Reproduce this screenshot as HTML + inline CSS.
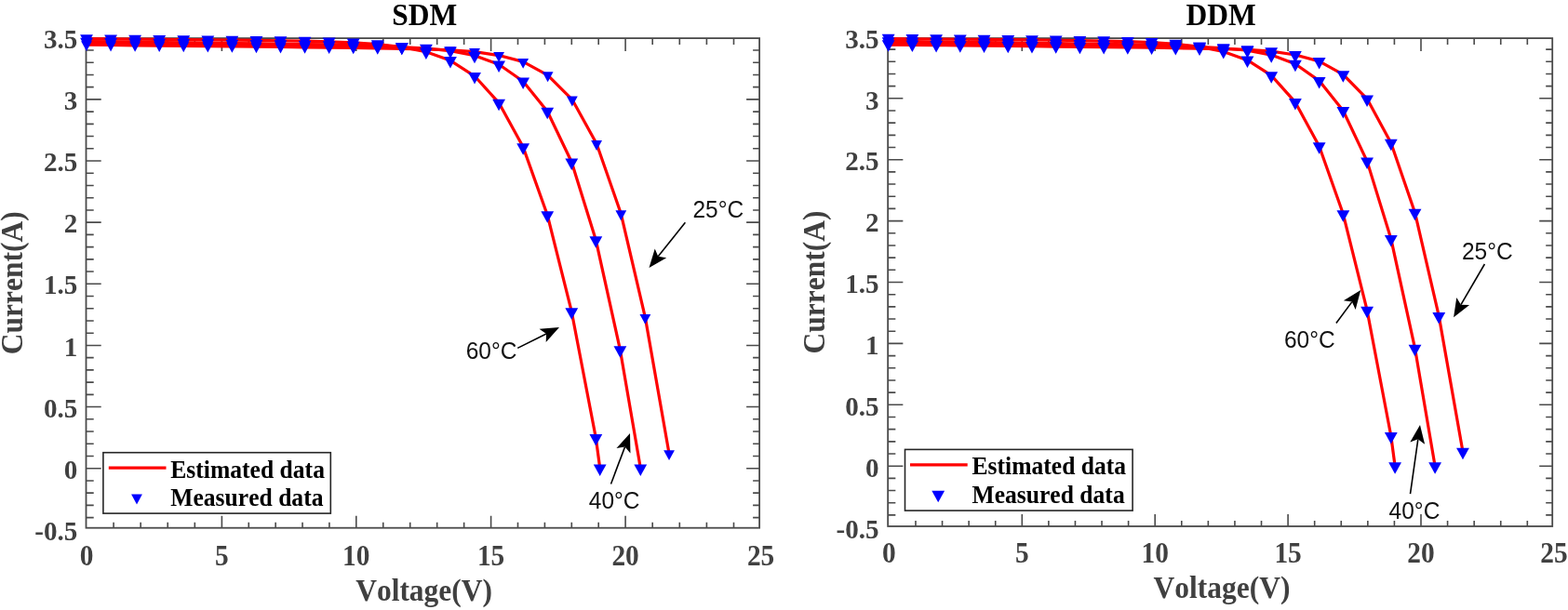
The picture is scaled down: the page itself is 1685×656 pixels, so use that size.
<!DOCTYPE html>
<html lang="en"><head><meta charset="utf-8"><title>SDM and DDM I-V curves</title>
<style>
html,body{margin:0;padding:0;background:#fff;}
body{width:1685px;height:656px;overflow:hidden;}
svg{display:block;}
text{font-family:"Liberation Serif","Times New Roman",serif;font-weight:bold;font-kerning:none;}
.tk{font-size:30px;fill:#404040;}
.ttl{font-size:31.5px;fill:#000;}
.lab{font-size:31.5px;fill:#404040;}
.leg{font-size:25.6px;fill:#000;}
.ann{font-family:"Liberation Sans",Arial,sans-serif;font-weight:normal;font-size:24.5px;fill:#111;}
</style></head><body>
<svg width="1685" height="656" viewBox="0 0 1685 656">
<rect width="1685" height="656" fill="#fff"/>
<g>
<rect width="1685" height="656" fill="#fff"/>
<g>
<rect x="92.5" y="41.1" width="723.6" height="526.6" fill="#fff" stroke="#4a4a4a" stroke-width="1.8"/>
<path d="M122.08 567.7v-5.9M122.08 41.1v7M151.16 567.7v-5.9M151.16 41.1v7M180.24 567.7v-5.9M180.24 41.1v7M209.32 567.7v-5.9M209.32 41.1v7M238.4 567.7v-12.9M238.4 41.1v14M267.28 567.7v-5.9M267.28 41.1v7M296.16 567.7v-5.9M296.16 41.1v7M325.04 567.7v-5.9M325.04 41.1v7M353.92 567.7v-5.9M353.92 41.1v7M382.8 567.7v-12.9M382.8 41.1v14M411.76 567.7v-5.9M411.76 41.1v7M440.72 567.7v-5.9M440.72 41.1v7M469.68 567.7v-5.9M469.68 41.1v7M498.64 567.7v-5.9M498.64 41.1v7M527.6 567.7v-12.9M527.6 41.1v14M556.5 567.7v-5.9M556.5 41.1v7M585.4 567.7v-5.9M585.4 41.1v7M614.3 567.7v-5.9M614.3 41.1v7M643.2 567.7v-5.9M643.2 41.1v7M672.1 567.7v-12.9M672.1 41.1v14M701.2 567.7v-5.9M701.2 41.1v7M730.3 567.7v-5.9M730.3 41.1v7M759.4 567.7v-5.9M759.4 41.1v7M788.5 567.7v-5.9M788.5 41.1v7M92.5 556.61h8.2M816.1 556.61h-7M92.5 543.38h8.2M816.1 543.38h-7M92.5 530.15h8.2M816.1 530.15h-7M92.5 516.93h8.2M816.1 516.93h-7M92.5 503.7h16.2M816.1 503.7h-14M92.5 490.47h8.2M816.1 490.47h-7M92.5 477.25h8.2M816.1 477.25h-7M92.5 464.02h8.2M816.1 464.02h-7M92.5 450.79h8.2M816.1 450.79h-7M92.5 437.56h16.2M816.1 437.56h-14M92.5 424.34h8.2M816.1 424.34h-7M92.5 411.11h8.2M816.1 411.11h-7M92.5 397.88h8.2M816.1 397.88h-7M92.5 384.66h8.2M816.1 384.66h-7M92.5 371.43h16.2M816.1 371.43h-14M92.5 358.2h8.2M816.1 358.2h-7M92.5 344.98h8.2M816.1 344.98h-7M92.5 331.75h8.2M816.1 331.75h-7M92.5 318.52h8.2M816.1 318.52h-7M92.5 305.29h16.2M816.1 305.29h-14M92.5 292.07h8.2M816.1 292.07h-7M92.5 278.84h8.2M816.1 278.84h-7M92.5 265.61h8.2M816.1 265.61h-7M92.5 252.39h8.2M816.1 252.39h-7M92.5 239.16h16.2M816.1 239.16h-14M92.5 225.93h8.2M816.1 225.93h-7M92.5 212.71h8.2M816.1 212.71h-7M92.5 199.48h8.2M816.1 199.48h-7M92.5 186.25h8.2M816.1 186.25h-7M92.5 173.02h16.2M816.1 173.02h-14M92.5 159.8h8.2M816.1 159.8h-7M92.5 146.57h8.2M816.1 146.57h-7M92.5 133.34h8.2M816.1 133.34h-7M92.5 120.12h8.2M816.1 120.12h-7M92.5 106.89h16.2M816.1 106.89h-14M92.5 93.66h8.2M816.1 93.66h-7M92.5 80.44h8.2M816.1 80.44h-7M92.5 67.21h8.2M816.1 67.21h-7M92.5 53.98h8.2M816.1 53.98h-7" stroke="#4a4a4a" stroke-width="1.6" fill="none"/>
<text class="tk" text-anchor="middle" transform="translate(93 607.7) scale(0.98 1.02)">0</text>
<text class="tk" text-anchor="middle" transform="translate(238.4 607.7) scale(0.98 1.02)">5</text>
<text class="tk" text-anchor="middle" transform="translate(382.8 607.7) scale(0.98 1.02)">10</text>
<text class="tk" text-anchor="middle" transform="translate(527.6 607.7) scale(0.98 1.02)">15</text>
<text class="tk" text-anchor="middle" transform="translate(672.1 607.7) scale(0.98 1.02)">20</text>
<text class="tk" text-anchor="middle" transform="translate(817.6 607.7) scale(0.98 1.02)">25</text>
<text class="tk" text-anchor="end" transform="translate(83.4 581.04) scale(0.97 1.01)">-0.5</text>
<text class="tk" text-anchor="end" transform="translate(83.4 514.9) scale(0.97 1.01)">0</text>
<text class="tk" text-anchor="end" transform="translate(83.4 448.76) scale(0.97 1.01)">0.5</text>
<text class="tk" text-anchor="end" transform="translate(83.4 382.63) scale(0.97 1.01)">1</text>
<text class="tk" text-anchor="end" transform="translate(83.4 316.49) scale(0.97 1.01)">1.5</text>
<text class="tk" text-anchor="end" transform="translate(83.4 250.36) scale(0.97 1.01)">2</text>
<text class="tk" text-anchor="end" transform="translate(83.4 184.22) scale(0.97 1.01)">2.5</text>
<text class="tk" text-anchor="end" transform="translate(83.4 118.09) scale(0.97 1.01)">3</text>
<text class="tk" text-anchor="end" transform="translate(83.4 51.95) scale(0.97 1.01)">3.5</text>
<text class="ttl" text-anchor="middle" transform="translate(456.2 26.6) scale(1 1.05)">SDM</text>
<text class="lab" text-anchor="middle" transform="translate(455.6 645.7) scale(1 1.07)">Voltage(V)</text>
<text class="lab" text-anchor="middle" transform="translate(24 304.3) rotate(-90) scale(1 1.07)">Current(A)</text>
<g fill="none" stroke="#f00" stroke-width="3.2" stroke-linejoin="round">
<polyline points="93,48.21 119.06,48.49 145.13,48.78 171.19,49.07 197.26,49.36 223.32,49.65 249.38,49.94 275.45,50.23 301.51,50.52 327.58,50.81 353.64,51.13 379.7,51.46 405.77,51.85 431.83,52.34 457.9,52.86 483.96,53.8 510.02,55.62 536.09,59.55 562.15,66.4 588.62,80.8 614.86,107.05 641.09,154.54 667.31,229.81 693.37,341.4 719.04,487.71"/>
<polyline points="93,45.1 119.06,45.43 145.13,45.76 171.19,46.09 197.26,46.41 223.32,46.74 249.38,47.08 275.45,47.42 301.51,47.77 327.58,48.14 353.64,48.54 379.7,49.03 405.77,49.68 431.83,50.63 457.9,52.02 483.96,54.65 510.02,59.64 536.09,69.3 562.15,87.46 588.22,119.7 614.28,174.3 640.34,258.1 666.41,376.2 688.27,503.3"/>
<polyline points="93,41.7 119.06,41.93 145.13,42.15 171.19,42.39 197.26,42.61 223.32,42.87 249.38,43.12 275.45,43.41 301.51,43.76 327.58,44.21 353.64,44.88 379.7,45.89 405.77,47.61 431.83,50.6 457.9,55.77 483.96,65.11 510.02,81.8 536.09,110.6 562.15,158.1 588.22,231.19 614.28,335.2 640.34,471 644.69,503.3"/>
<polyline points="93,45.1 119.06,45.43 145.13,45.76 171.19,46.09 197.26,46.41 223.32,46.74 249.38,47.08 275.45,47.42 301.51,47.77 327.58,48.14 353.64,48.54 379.7,49.03 405.77,49.68 431.83,50.63" stroke-width="4.4"/>
</g>
<g fill="#00f">
<polygon points="87.1,44.21 98.9,44.21 93,55.11"/>
<polygon points="113.16,44.49 124.96,44.49 119.06,55.39"/>
<polygon points="139.23,44.78 151.03,44.78 145.13,55.68"/>
<polygon points="165.29,45.07 177.09,45.07 171.19,55.97"/>
<polygon points="191.36,45.36 203.16,45.36 197.26,56.26"/>
<polygon points="217.42,45.65 229.22,45.65 223.32,56.55"/>
<polygon points="243.48,45.94 255.28,45.94 249.38,56.84"/>
<polygon points="269.55,46.23 281.35,46.23 275.45,57.13"/>
<polygon points="295.61,46.52 307.41,46.52 301.51,57.42"/>
<polygon points="321.68,46.81 333.48,46.81 327.58,57.71"/>
<polygon points="347.74,47.13 359.54,47.13 353.64,58.03"/>
<polygon points="373.8,47.46 385.6,47.46 379.7,58.36"/>
<polygon points="399.87,47.85 411.67,47.85 405.77,58.75"/>
<polygon points="425.93,48.34 437.73,48.34 431.83,59.24"/>
<polygon points="452,49.02 463.8,49.02 457.9,59.92"/>
<polygon points="478.06,50.13 489.86,50.13 483.96,61.03"/>
<polygon points="504.12,52.12 515.92,52.12 510.02,63.02"/>
<polygon points="530.19,56.05 541.99,56.05 536.09,66.95"/>
<polygon points="556.25,62.9 568.05,62.9 562.15,73.8"/>
<polygon points="582.72,77.3 594.52,77.3 588.62,88.2"/>
<polygon points="608.96,103.55 620.75,103.55 614.86,114.45"/>
<polygon points="635.19,151.04 646.99,151.04 641.09,161.94"/>
<polygon points="661.41,226.31 673.21,226.31 667.31,237.21"/>
<polygon points="687.47,337.9 699.27,337.9 693.37,348.8"/>
<polygon points="713.14,484.21 724.94,484.21 719.04,495.11"/>
<polygon points="86.1,40.7 99.9,40.7 93,53.2"/>
<polygon points="112.16,41.03 125.96,41.03 119.06,53.53"/>
<polygon points="138.23,41.36 152.03,41.36 145.13,53.86"/>
<polygon points="164.29,41.69 178.09,41.69 171.19,54.19"/>
<polygon points="190.36,42.01 204.16,42.01 197.26,54.51"/>
<polygon points="216.42,42.34 230.22,42.34 223.32,54.84"/>
<polygon points="242.48,42.68 256.28,42.68 249.38,55.18"/>
<polygon points="268.55,43.02 282.35,43.02 275.45,55.52"/>
<polygon points="294.61,43.37 308.41,43.37 301.51,55.87"/>
<polygon points="320.68,43.74 334.48,43.74 327.58,56.24"/>
<polygon points="346.74,44.14 360.54,44.14 353.64,56.64"/>
<polygon points="372.8,44.63 386.6,44.63 379.7,57.13"/>
<polygon points="398.87,45.28 412.67,45.28 405.77,57.78"/>
<polygon points="424.93,46.23 438.73,46.23 431.83,58.73"/>
<polygon points="451,47.79 464.8,47.79 457.9,60.29"/>
<polygon points="477.06,50.58 490.86,50.58 483.96,63.08"/>
<polygon points="503.12,55.74 516.92,55.74 510.02,68.24"/>
<polygon points="529.19,65.4 542.99,65.4 536.09,77.9"/>
<polygon points="555.25,83.56 569.05,83.56 562.15,96.06"/>
<polygon points="581.32,115.8 595.12,115.8 588.22,128.3"/>
<polygon points="607.38,170.4 621.18,170.4 614.28,182.9"/>
<polygon points="633.44,254.2 647.24,254.2 640.34,266.7"/>
<polygon points="659.51,372.3 673.31,372.3 666.41,384.8"/>
<polygon points="681.37,499.4 695.17,499.4 688.27,511.9"/>
<polygon points="86.1,37.3 99.9,37.3 93,49.8"/>
<polygon points="112.16,37.53 125.96,37.53 119.06,50.03"/>
<polygon points="138.23,37.75 152.03,37.75 145.13,50.25"/>
<polygon points="164.29,37.99 178.09,37.99 171.19,50.49"/>
<polygon points="190.36,38.21 204.16,38.21 197.26,50.71"/>
<polygon points="216.42,38.47 230.22,38.47 223.32,50.97"/>
<polygon points="242.48,38.72 256.28,38.72 249.38,51.22"/>
<polygon points="268.55,39.01 282.35,39.01 275.45,51.51"/>
<polygon points="294.61,39.36 308.41,39.36 301.51,51.86"/>
<polygon points="320.68,39.81 334.48,39.81 327.58,52.31"/>
<polygon points="346.74,40.48 360.54,40.48 353.64,52.98"/>
<polygon points="372.8,41.49 386.6,41.49 379.7,53.99"/>
<polygon points="398.87,43.21 412.67,43.21 405.77,55.71"/>
<polygon points="424.93,46.2 438.73,46.2 431.83,58.7"/>
<polygon points="451,51.53 464.8,51.53 457.9,64.03"/>
<polygon points="477.06,61.04 490.86,61.04 483.96,73.54"/>
<polygon points="503.12,77.9 516.92,77.9 510.02,90.4"/>
<polygon points="529.19,106.7 542.99,106.7 536.09,119.2"/>
<polygon points="555.25,154.2 569.05,154.2 562.15,166.7"/>
<polygon points="581.32,227.29 595.12,227.29 588.22,239.79"/>
<polygon points="607.38,331.3 621.18,331.3 614.28,343.8"/>
<polygon points="633.44,467.1 647.24,467.1 640.34,479.6"/>
<polygon points="637.79,499.4 651.59,499.4 644.69,511.9"/>
</g>
<rect x="110.9" y="486.7" width="244.4" height="65.4" fill="#fff" stroke="#262626" stroke-width="1.6"/>
<line x1="116.8" y1="503.2" x2="178.5" y2="503.2" stroke="#f00" stroke-width="3.2"/>
<g fill="#00f"><polygon points="141.1,531.5 152.9,531.5 147,542.4"/></g>
<text class="leg" transform="translate(183.3 513.7) scale(1 1.045)">Estimated data</text>
<text class="leg" transform="translate(183.3 544.1) scale(1 1.045)">Measured data</text>
<text class="ann" transform="translate(744.5 233.9) scale(1 1.06)">25°C</text>
<line x1="736.4" y1="239.3" x2="707.24" y2="275.81" stroke="#000" stroke-width="1.6"/><polygon points="697.5,288 703.73,267.38 707.24,275.81 716.23,277.37" fill="#000"/>
<text class="ann" transform="translate(500.7 386) scale(1 1.06)">60°C</text>
<line x1="556.2" y1="374.4" x2="587.05" y2="358.98" stroke="#000" stroke-width="1.6"/><polygon points="601,352 586.69,368.1 587.05,358.98 579.53,353.79" fill="#000"/>
<text class="ann" transform="translate(632.8 547) scale(1 1.06)">40°C</text>
<line x1="656.5" y1="520.5" x2="671.51" y2="480.6" stroke="#000" stroke-width="1.6"/><polygon points="677,466 677.45,487.54 671.51,480.6 662.47,481.9" fill="#000"/>
</g>
<g>
<rect x="954.15" y="41.1" width="714.05" height="524.9" fill="#fff" stroke="#4a4a4a" stroke-width="1.8"/>
<path d="M983.98 566v-5.9M983.98 41.1v7M1012.56 566v-5.9M1012.56 41.1v7M1041.14 566v-5.9M1041.14 41.1v7M1069.72 566v-5.9M1069.72 41.1v7M1098.3 566v-12.9M1098.3 41.1v14M1126.88 566v-5.9M1126.88 41.1v7M1155.46 566v-5.9M1155.46 41.1v7M1184.04 566v-5.9M1184.04 41.1v7M1212.62 566v-5.9M1212.62 41.1v7M1241.2 566v-12.9M1241.2 41.1v14M1269.78 566v-5.9M1269.78 41.1v7M1298.36 566v-5.9M1298.36 41.1v7M1326.94 566v-5.9M1326.94 41.1v7M1355.52 566v-5.9M1355.52 41.1v7M1384.1 566v-12.9M1384.1 41.1v14M1412.68 566v-5.9M1412.68 41.1v7M1441.26 566v-5.9M1441.26 41.1v7M1469.84 566v-5.9M1469.84 41.1v7M1498.42 566v-5.9M1498.42 41.1v7M1527 566v-12.9M1527 41.1v14M1555.58 566v-5.9M1555.58 41.1v7M1584.16 566v-5.9M1584.16 41.1v7M1612.74 566v-5.9M1612.74 41.1v7M1641.32 566v-5.9M1641.32 41.1v7M954.15 553.92h8.2M1668.2 553.92h-7M954.15 540.74h8.2M1668.2 540.74h-7M954.15 527.56h8.2M1668.2 527.56h-7M954.15 514.38h8.2M1668.2 514.38h-7M954.15 501.2h16.2M1668.2 501.2h-14M954.15 488.02h8.2M1668.2 488.02h-7M954.15 474.84h8.2M1668.2 474.84h-7M954.15 461.66h8.2M1668.2 461.66h-7M954.15 448.48h8.2M1668.2 448.48h-7M954.15 435.3h16.2M1668.2 435.3h-14M954.15 422.12h8.2M1668.2 422.12h-7M954.15 408.94h8.2M1668.2 408.94h-7M954.15 395.76h8.2M1668.2 395.76h-7M954.15 382.58h8.2M1668.2 382.58h-7M954.15 369.4h16.2M1668.2 369.4h-14M954.15 356.22h8.2M1668.2 356.22h-7M954.15 343.04h8.2M1668.2 343.04h-7M954.15 329.86h8.2M1668.2 329.86h-7M954.15 316.68h8.2M1668.2 316.68h-7M954.15 303.5h16.2M1668.2 303.5h-14M954.15 290.32h8.2M1668.2 290.32h-7M954.15 277.14h8.2M1668.2 277.14h-7M954.15 263.96h8.2M1668.2 263.96h-7M954.15 250.78h8.2M1668.2 250.78h-7M954.15 237.6h16.2M1668.2 237.6h-14M954.15 224.42h8.2M1668.2 224.42h-7M954.15 211.24h8.2M1668.2 211.24h-7M954.15 198.06h8.2M1668.2 198.06h-7M954.15 184.88h8.2M1668.2 184.88h-7M954.15 171.7h16.2M1668.2 171.7h-14M954.15 158.52h8.2M1668.2 158.52h-7M954.15 145.34h8.2M1668.2 145.34h-7M954.15 132.16h8.2M1668.2 132.16h-7M954.15 118.98h8.2M1668.2 118.98h-7M954.15 105.8h16.2M1668.2 105.8h-14M954.15 92.62h8.2M1668.2 92.62h-7M954.15 79.44h8.2M1668.2 79.44h-7M954.15 66.26h8.2M1668.2 66.26h-7M954.15 53.08h8.2M1668.2 53.08h-7" stroke="#4a4a4a" stroke-width="1.6" fill="none"/>
<text class="tk" text-anchor="middle" transform="translate(955.4 604.9) scale(0.98 1.02)">0</text>
<text class="tk" text-anchor="middle" transform="translate(1098.3 604.9) scale(0.98 1.02)">5</text>
<text class="tk" text-anchor="middle" transform="translate(1241.2 604.9) scale(0.98 1.02)">10</text>
<text class="tk" text-anchor="middle" transform="translate(1384.1 604.9) scale(0.98 1.02)">15</text>
<text class="tk" text-anchor="middle" transform="translate(1527 604.9) scale(0.98 1.02)">20</text>
<text class="tk" text-anchor="middle" transform="translate(1669.9 604.9) scale(0.98 1.02)">25</text>
<text class="tk" text-anchor="end" transform="translate(944.5 578.8) scale(0.97 1.01)">-0.5</text>
<text class="tk" text-anchor="end" transform="translate(944.5 512.9) scale(0.97 1.01)">0</text>
<text class="tk" text-anchor="end" transform="translate(944.5 447) scale(0.97 1.01)">0.5</text>
<text class="tk" text-anchor="end" transform="translate(944.5 381.1) scale(0.97 1.01)">1</text>
<text class="tk" text-anchor="end" transform="translate(944.5 315.2) scale(0.97 1.01)">1.5</text>
<text class="tk" text-anchor="end" transform="translate(944.5 249.3) scale(0.97 1.01)">2</text>
<text class="tk" text-anchor="end" transform="translate(944.5 183.4) scale(0.97 1.01)">2.5</text>
<text class="tk" text-anchor="end" transform="translate(944.5 117.5) scale(0.97 1.01)">3</text>
<text class="tk" text-anchor="end" transform="translate(944.5 51.6) scale(0.97 1.01)">3.5</text>
<text class="ttl" text-anchor="middle" transform="translate(1312 26.6) scale(1 1.05)">DDM</text>
<text class="lab" text-anchor="middle" transform="translate(1313 642.7) scale(1 1.07)">Voltage(V)</text>
<text class="lab" text-anchor="middle" transform="translate(886 303.5) rotate(-90) scale(1 1.07)">Current(A)</text>
<g fill="none" stroke="#f00" stroke-width="3.2" stroke-linejoin="round">
<polyline points="954.65,48.03 980.37,48.3 1006.09,48.59 1031.82,48.88 1057.54,49.17 1083.26,49.46 1108.98,49.75 1134.7,50.04 1160.43,50.33 1186.15,50.62 1211.87,50.94 1237.59,51.27 1263.31,51.65 1289.04,52.14 1314.76,52.56 1340.48,53.4 1366.2,55.11 1391.92,59.02 1417.65,65.85 1443.37,80.2 1469.09,106.35 1494.81,153.68 1520.53,228.68 1546.26,339.88 1571.98,485.66"/>
<polyline points="954.65,44.93 980.37,45.26 1006.09,45.59 1031.82,45.92 1057.54,46.24 1083.26,46.57 1108.98,46.91 1134.7,47.24 1160.43,47.59 1186.15,47.96 1211.87,48.36 1237.59,48.85 1263.31,49.49 1289.04,50.44 1314.76,51.73 1340.48,54.24 1366.2,59.12 1391.92,68.74 1417.65,86.83 1443.37,118.97 1469.09,173.37 1494.81,256.87 1520.53,374.55 1542.11,501.2"/>
<polyline points="954.65,41.54 980.37,41.77 1006.09,41.99 1031.82,42.23 1057.54,42.45 1083.26,42.7 1108.98,42.95 1134.7,43.24 1160.43,43.6 1186.15,44.05 1211.87,44.71 1237.59,45.72 1263.31,47.43 1289.04,50.41 1314.76,55.46 1340.48,64.67 1366.2,81.19 1391.92,109.9 1417.65,157.23 1443.37,230.06 1469.09,333.7 1494.81,469.01 1499.1,501.2"/>
<polyline points="954.65,44.93 980.37,45.26 1006.09,45.59 1031.82,45.92 1057.54,46.24 1083.26,46.57 1108.98,46.91 1134.7,47.24 1160.43,47.59 1186.15,47.96 1211.87,48.36 1237.59,48.85 1263.31,49.49 1289.04,50.44" stroke-width="4.4"/>
</g>
<g fill="#00f">
<polygon points="947.75,43.33 961.55,43.33 954.65,55.83"/>
<polygon points="973.47,43.6 987.27,43.6 980.37,56.1"/>
<polygon points="999.19,43.89 1012.99,43.89 1006.09,56.39"/>
<polygon points="1024.92,44.18 1038.72,44.18 1031.82,56.68"/>
<polygon points="1050.64,44.47 1064.44,44.47 1057.54,56.97"/>
<polygon points="1076.36,44.76 1090.16,44.76 1083.26,57.26"/>
<polygon points="1102.08,45.05 1115.88,45.05 1108.98,57.55"/>
<polygon points="1127.8,45.34 1141.6,45.34 1134.7,57.84"/>
<polygon points="1153.53,45.63 1167.33,45.63 1160.43,58.13"/>
<polygon points="1179.25,45.92 1193.05,45.92 1186.15,58.42"/>
<polygon points="1204.97,46.24 1218.77,46.24 1211.87,58.74"/>
<polygon points="1230.69,46.57 1244.49,46.57 1237.59,59.07"/>
<polygon points="1256.41,46.95 1270.21,46.95 1263.31,59.45"/>
<polygon points="1282.14,47.44 1295.94,47.44 1289.04,59.94"/>
<polygon points="1307.86,48.13 1321.66,48.13 1314.76,60.63"/>
<polygon points="1333.58,49.23 1347.38,49.23 1340.48,61.73"/>
<polygon points="1359.3,51.21 1373.1,51.21 1366.2,63.71"/>
<polygon points="1385.02,55.12 1398.82,55.12 1391.92,67.62"/>
<polygon points="1410.75,61.95 1424.55,61.95 1417.65,74.45"/>
<polygon points="1436.47,76.3 1450.27,76.3 1443.37,88.8"/>
<polygon points="1462.19,102.45 1475.99,102.45 1469.09,114.95"/>
<polygon points="1487.91,149.78 1501.71,149.78 1494.81,162.28"/>
<polygon points="1513.63,224.78 1527.43,224.78 1520.53,237.28"/>
<polygon points="1539.36,335.98 1553.16,335.98 1546.26,348.48"/>
<polygon points="1565.08,481.76 1578.88,481.76 1571.98,494.26"/>
<polygon points="947.75,40.23 961.55,40.23 954.65,52.73"/>
<polygon points="973.47,40.56 987.27,40.56 980.37,53.06"/>
<polygon points="999.19,40.89 1012.99,40.89 1006.09,53.39"/>
<polygon points="1024.92,41.22 1038.72,41.22 1031.82,53.72"/>
<polygon points="1050.64,41.54 1064.44,41.54 1057.54,54.04"/>
<polygon points="1076.36,41.87 1090.16,41.87 1083.26,54.37"/>
<polygon points="1102.08,42.21 1115.88,42.21 1108.98,54.71"/>
<polygon points="1127.8,42.54 1141.6,42.54 1134.7,55.04"/>
<polygon points="1153.53,42.89 1167.33,42.89 1160.43,55.39"/>
<polygon points="1179.25,43.26 1193.05,43.26 1186.15,55.76"/>
<polygon points="1204.97,43.66 1218.77,43.66 1211.87,56.16"/>
<polygon points="1230.69,44.15 1244.49,44.15 1237.59,56.65"/>
<polygon points="1256.41,44.79 1270.21,44.79 1263.31,57.29"/>
<polygon points="1282.14,45.74 1295.94,45.74 1289.04,58.24"/>
<polygon points="1307.86,47.3 1321.66,47.3 1314.76,59.8"/>
<polygon points="1333.58,50.08 1347.38,50.08 1340.48,62.58"/>
<polygon points="1359.3,55.22 1373.1,55.22 1366.2,67.72"/>
<polygon points="1385.02,64.84 1398.82,64.84 1391.92,77.34"/>
<polygon points="1410.75,82.93 1424.55,82.93 1417.65,95.43"/>
<polygon points="1436.47,115.07 1450.27,115.07 1443.37,127.57"/>
<polygon points="1462.19,169.47 1475.99,169.47 1469.09,181.97"/>
<polygon points="1487.91,252.97 1501.71,252.97 1494.81,265.47"/>
<polygon points="1513.63,370.65 1527.43,370.65 1520.53,383.15"/>
<polygon points="1535.21,497.3 1549.01,497.3 1542.11,509.8"/>
<polygon points="947.75,36.84 961.55,36.84 954.65,49.34"/>
<polygon points="973.47,37.07 987.27,37.07 980.37,49.57"/>
<polygon points="999.19,37.29 1012.99,37.29 1006.09,49.79"/>
<polygon points="1024.92,37.53 1038.72,37.53 1031.82,50.03"/>
<polygon points="1050.64,37.75 1064.44,37.75 1057.54,50.25"/>
<polygon points="1076.36,38 1090.16,38 1083.26,50.5"/>
<polygon points="1102.08,38.25 1115.88,38.25 1108.98,50.75"/>
<polygon points="1127.8,38.54 1141.6,38.54 1134.7,51.04"/>
<polygon points="1153.53,38.9 1167.33,38.9 1160.43,51.4"/>
<polygon points="1179.25,39.35 1193.05,39.35 1186.15,51.85"/>
<polygon points="1204.97,40.01 1218.77,40.01 1211.87,52.51"/>
<polygon points="1230.69,41.02 1244.49,41.02 1237.59,53.52"/>
<polygon points="1256.41,42.73 1270.21,42.73 1263.31,55.23"/>
<polygon points="1282.14,45.71 1295.94,45.71 1289.04,58.21"/>
<polygon points="1307.86,51.03 1321.66,51.03 1314.76,63.53"/>
<polygon points="1333.58,60.5 1347.38,60.5 1340.48,73"/>
<polygon points="1359.3,77.29 1373.1,77.29 1366.2,89.79"/>
<polygon points="1385.02,106 1398.82,106 1391.92,118.5"/>
<polygon points="1410.75,153.33 1424.55,153.33 1417.65,165.83"/>
<polygon points="1436.47,226.16 1450.27,226.16 1443.37,238.66"/>
<polygon points="1462.19,329.8 1475.99,329.8 1469.09,342.3"/>
<polygon points="1487.91,465.11 1501.71,465.11 1494.81,477.61"/>
<polygon points="1492.2,497.3 1506,497.3 1499.1,509.8"/>
</g>
<rect x="972.5" y="483.4" width="244.6" height="65.7" fill="#fff" stroke="#262626" stroke-width="1.6"/>
<line x1="978" y1="499.9" x2="1039.7" y2="499.9" stroke="#f00" stroke-width="3.2"/>
<g fill="#00f"><polygon points="1001.3,527.8 1015.1,527.8 1008.2,540.3"/></g>
<text class="leg" transform="translate(1044.5 510.4) scale(1 1.045)">Estimated data</text>
<text class="leg" transform="translate(1044.5 540.8) scale(1 1.045)">Measured data</text>
<text class="ann" transform="translate(1570.9 278.7) scale(1 1.06)">25°C</text>
<line x1="1595.4" y1="284" x2="1569.95" y2="327.72" stroke="#000" stroke-width="1.6"/><polygon points="1562.1,341.2 1565.25,319.89 1569.95,327.72 1579.08,327.94" fill="#000"/>
<text class="ann" transform="translate(1380 374) scale(1 1.06)">60°C</text>
<line x1="1435.9" y1="347.4" x2="1452.88" y2="324.61" stroke="#000" stroke-width="1.6"/><polygon points="1462.2,312.1 1456.67,332.92 1452.88,324.61 1443.84,323.36" fill="#000"/>
<text class="ann" transform="translate(1492.6 558.4) scale(1 1.06)">40°C</text>
<line x1="1515.5" y1="531.2" x2="1523.82" y2="472.35" stroke="#000" stroke-width="1.6"/><polygon points="1526,456.9 1531.12,477.82 1523.82,472.35 1515.28,475.58" fill="#000"/>
</g>
</g>
</svg>
</body></html>
